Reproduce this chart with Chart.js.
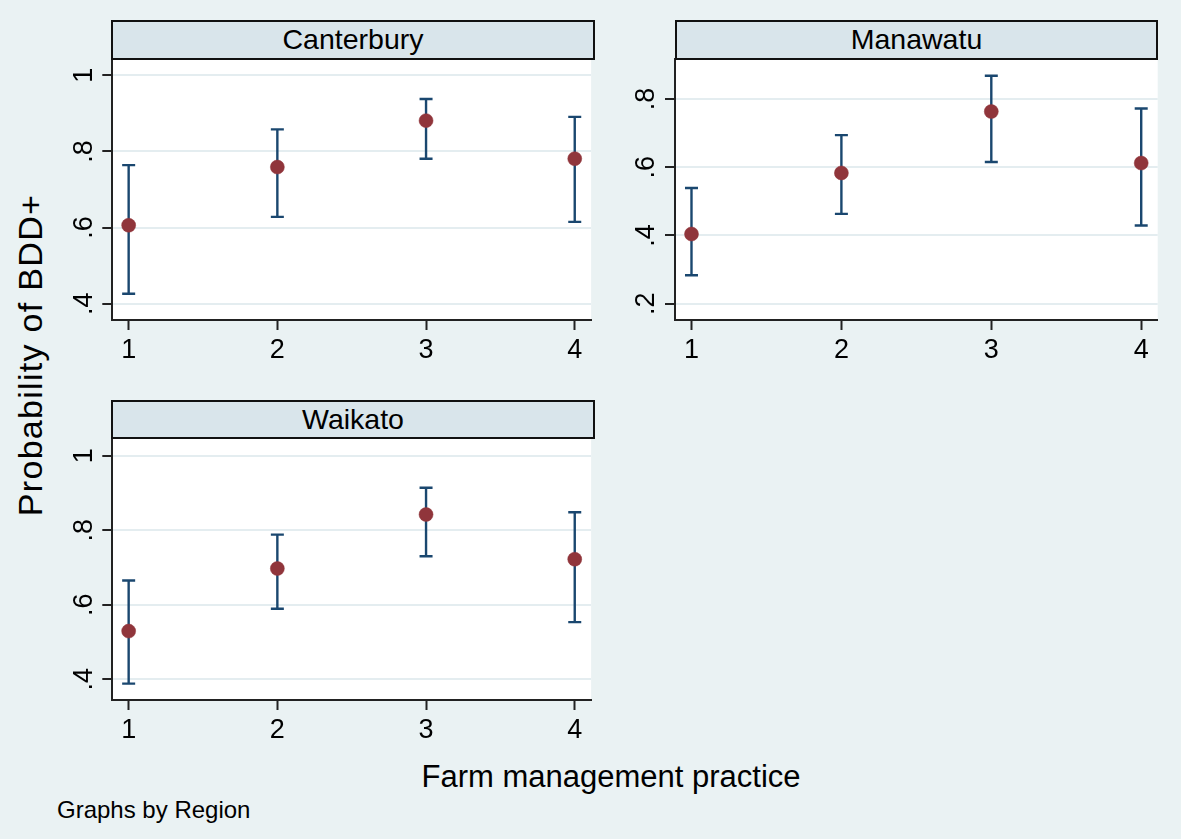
<!DOCTYPE html>
<html><head><meta charset="utf-8">
<script src="https://cdn.jsdelivr.net/npm/chart.js@4.4.1/dist/chart.umd.min.js"></script>
<style>
html,body{margin:0;padding:0;}
body{width:1181px;height:839px;background:#EAF2F3;position:relative;overflow:hidden;font-family:"Liberation Sans",Arial,sans-serif;color:#000;}
.hdr{position:absolute;box-sizing:border-box;border:2px solid #111;background:#D9E5EB;font-size:28.5px;text-align:center;line-height:35px;white-space:nowrap;z-index:2;}
canvas{position:absolute;z-index:1;}
.txt{position:absolute;white-space:nowrap;z-index:3;}
</style></head><body>

<div class="hdr" style="left:111px;top:20px;width:484px;height:40px;">Canterbury</div>
<div class="hdr" style="left:675px;top:20px;width:483px;height:40px;">Manawatu</div>
<div class="hdr" style="left:111px;top:400px;width:484px;height:39px;">Waikato</div>

<canvas id="c1" width="540" height="320" style="left:60px;top:50px;"></canvas>
<canvas id="c2" width="560" height="320" style="left:620px;top:50px;"></canvas>
<canvas id="c3" width="540" height="320" style="left:60px;top:430px;"></canvas>

<div class="txt" style="left:30px;top:355px;font-size:34px;line-height:34px;letter-spacing:1.3px;transform:translate(-50%,-50%) rotate(-90deg);">Probability of BDD+</div>
<div class="txt" style="left:611px;top:776px;font-size:31px;line-height:31px;transform:translate(-50%,-50%);">Farm management practice</div>
<div class="txt" style="left:57px;top:798px;font-size:24px;line-height:24px;">Graphs by Region</div>

<script>
// ---- data ----
const categories = [1, 2, 3, 4];
const xTickValues = [1, 2, 3, 4];

const canterburyEst = [0.606, 0.759, 0.881, 0.781];
const canterburyLo  = [0.426, 0.628, 0.781, 0.615];
const canterburyHi  = [0.764, 0.858, 0.938, 0.891];

const manawatuEst = [0.404, 0.583, 0.763, 0.612];
const manawatuLo  = [0.283, 0.463, 0.615, 0.429];
const manawatuHi  = [0.539, 0.694, 0.868, 0.772];

const waikatoEst = [0.529, 0.697, 0.842, 0.722];
const waikatoLo  = [0.388, 0.589, 0.730, 0.553];
const waikatoHi  = [0.665, 0.788, 0.914, 0.848];

const yTicksA = [0.4, 0.6, 0.8, 1];
const yLabelsA = ['.4', '.6', '.8', '1'];
const yTicksB = [0.2, 0.4, 0.6, 0.8];
const yLabelsB = ['.2', '.4', '.6', '.8'];

// ---- styling ----
const NAVY = '#1A476F';
const MAROON = '#90353B';
const AXIS = '#222222';
const GRID = '#E4EDF0';
const FONT = '"Liberation Sans", Arial, sans-serif';
const TICK_SIZE = 27;

const bgPlugin = {
  id: 'plotBg',
  beforeDraw(chart) {
    const { ctx, chartArea: a } = chart;
    ctx.save();
    ctx.fillStyle = '#FFFFFF';
    ctx.fillRect(a.left, a.top, a.right - a.left, a.bottom - a.top);
    ctx.restore();
  }
};

const yLabelPlugin = {
  id: 'yLabels',
  afterDraw(chart, args, opts) {
    const s = chart.scales.y, ctx = chart.ctx;
    ctx.save();
    ctx.font = TICK_SIZE + 'px ' + FONT;
    ctx.fillStyle = '#000';
    ctx.textAlign = 'center';
    ctx.textBaseline = 'alphabetic';
    s.ticks.forEach((t, i) => {
      const y = s.getPixelForValue(t.value);
      ctx.save();
      ctx.translate(chart.chartArea.left - 20.6, y);
      ctx.rotate(-Math.PI / 2);
      ctx.fillText(opts.labels[i], 0, 0);
      ctx.restore();
    });
    ctx.restore();
  }
};

function ciPoints(lo, hi) {
  const pts = [];
  categories.forEach((c, i) => {
    pts.push({ x: c, y: lo[i] }, { x: c, y: hi[i] }, { x: c, y: null });
  });
  return pts;
}

function makePanel(id, est, lo, hi, yMin, yMax, yTicks, yLabels, cfg) {
  new Chart(document.getElementById(id), {
    type: 'scatter',
    data: {
      datasets: [
        {
          label: 'Estimate',
          data: categories.map((c, i) => ({ x: c, y: est[i] })),
          pointRadius: 7,
          pointBackgroundColor: MAROON,
          pointBorderColor: MAROON,
          pointBorderWidth: 0.5,
          showLine: false
        },
        {
          label: 'CI',
          data: ciPoints(lo, hi),
          showLine: true,
          spanGaps: false,
          borderColor: NAVY,
          borderWidth: 2.4,
          pointStyle: 'line',
          pointRadius: 6.5,
          pointBorderColor: NAVY,
          pointBorderWidth: 2.4
        }
      ]
    },
    options: {
      responsive: false,
      animation: false,
      events: [],
      layout: { padding: { top: cfg.top, right: cfg.right, bottom: 0, left: 0 } },
      plugins: {
        legend: { display: false },
        tooltip: { enabled: false },
        yLabels: { labels: yLabels }
      },
      scales: {
        x: {
          type: 'linear',
          min: 0.89, max: 4.11,
          afterBuildTicks: s => { s.ticks = xTickValues.map(v => ({ value: v })); },
          afterFit: s => { s.height = 50; },
          grid: { drawOnChartArea: false, drawTicks: true, tickLength: 10, tickColor: AXIS, tickWidth: 2 },
          border: { display: true, color: AXIS, width: 2 },
          ticks: { color: '#000', padding: 7, font: { family: FONT, size: TICK_SIZE, lineHeight: 1 },
                   callback: v => String(v), maxRotation: 0, autoSkip: false }
        },
        y: {
          type: 'linear',
          min: yMin, max: yMax,
          afterBuildTicks: s => { s.ticks = yTicks.map(v => ({ value: v })); },
          afterFit: s => { s.width = cfg.yw; },
          grid: { color: GRID, lineWidth: 2, drawTicks: true, tickLength: 10, tickColor: AXIS, tickWidth: 2 },
          border: { display: true, color: AXIS, width: 2 },
          ticks: { display: false }
        }
      }
    },
    plugins: [bgPlugin, yLabelPlugin]
  });
}

makePanel('c1', canterburyEst, canterburyLo, canterburyHi, 0.357, 1.043, yTicksA, yLabelsA, { top: 9, right: 5, yw: 52.3 });
makePanel('c2', manawatuEst, manawatuLo, manawatuHi, 0.152, 0.917, yTicksB, yLabelsB, { top: 9, right: 22.3, yw: 55 });
makePanel('c3', waikatoEst, waikatoLo, waikatoHi, 0.344, 1.045, yTicksA, yLabelsA, { top: 8.3, right: 5, yw: 52.3 });
</script>
</body></html>
